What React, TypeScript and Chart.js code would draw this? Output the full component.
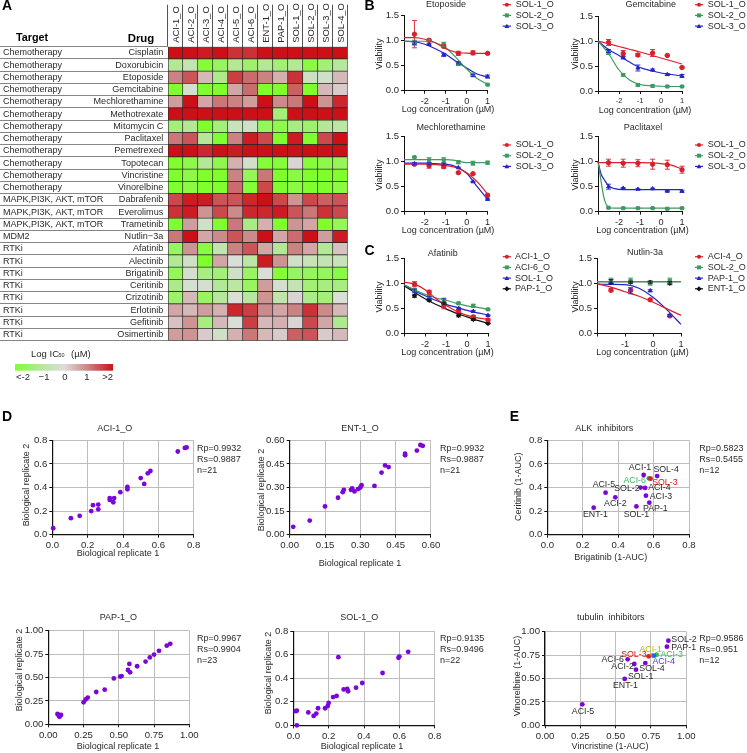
import React, { useEffect, useRef } from 'react';
import { Chart, registerables } from 'chart.js';

Chart.register(...registerables);

const W = 747;
const H = 753;
const FONT = '"Liberation Sans", Arial, sans-serif';
const INK = '#2a2a2a';
const RED = '#d8202c';
const GREEN = '#3f9a62';
const BLUE = '#2424c8';
const BLACK = '#111111';
const PURPLE = '#7a06d8';

/* ---------- A: heat map ---------- */
const cellLines = ['ACI-1_O', 'ACI-2_O', 'ACI-3_O', 'ACI-4_O', 'ACI-5_O', 'ACI-6_O', 'ENT-1_O', 'PAP-1_O', 'SOL-1_O', 'SOL-2_O', 'SOL-3_O', 'SOL-4_O'];
const drugs = ['Cisplatin', 'Doxorubicin', 'Etoposide', 'Gemcitabine', 'Mechlorethamine', 'Methotrexate', 'Mitomycin C', 'Paclitaxel', 'Pemetrexed', 'Topotecan', 'Vincristine', 'Vinorelbine', 'Dabrafenib', 'Everolimus', 'Trametinib', 'Nutlin−3a', 'Afatinib', 'Alectinib', 'Brigatinib', 'Ceritinib', 'Crizotinib', 'Erlotinib', 'Gefitinib', 'Osimertinib'];
const targets = ['Chemotherapy', 'Chemotherapy', 'Chemotherapy', 'Chemotherapy', 'Chemotherapy', 'Chemotherapy', 'Chemotherapy', 'Chemotherapy', 'Chemotherapy', 'Chemotherapy', 'Chemotherapy', 'Chemotherapy', 'MAPK,PI3K, AKT, mTOR', 'MAPK,PI3K, AKT, mTOR', 'MAPK,PI3K, AKT, mTOR', 'MDM2', 'RTKi', 'RTKi', 'RTKi', 'RTKi', 'RTKi', 'RTKi', 'RTKi', 'RTKi'];
const logIC50 = [
  [2, 2, 1.9, 2, 1.7, 1.7, 2, 2, 2, 2, 2, 2],
  [-1, -0.6, -1.9, -1.5, -1, -1.4, -1, -1.3, -1, -1.8, -1.3, -0.9],
  [1, 1.4, 0.4, -1.1, 1.6, 1.2, 1, 0.5, 1.7, -0.4, -0.3, 0.4],
  [-2, -0.2, -2, -2, 0.6, 1.2, -2, -2, 1.3, -2, 0.4, 0.2],
  [0.7, 2, 0.6, 1.1, 1, 0.7, 2, 0.9, 1.1, 2, 0.8, 1.8],
  [2, 2, 2, 2, 2, 2, 2, -1.3, 2, 2, 2, 2],
  [-1.3, -1, -2, -1.3, -0.5, -0.3, -1.6, -1.7, -1.2, -1.4, -1, -0.8],
  [1.1, 1.4, -1, -2, 1, 1.9, 1.5, -2, 1.9, -2, 1.5, 2],
  [2, 2, 1.8, 2, 1.9, 2, 2, 2, 2, 2, 2, 2],
  [-2, -1.7, -1, -1.7, 0.5, -0.3, -1.9, -1.9, 0.1, -1.9, -1.7, -1.6],
  [-2, -1.7, -2, -2, 1, -1.6, 1.1, -2, -1.8, -2, -2, -2],
  [-2, -1.8, -2, -2, 1.2, -1.9, 1.5, -2, -1.8, -2, -2, -1.8],
  [1.5, 1.9, 1.9, 1.4, 1.4, 1.8, 2, 1.5, 0.8, 1.5, 1.3, 1.4],
  [1.7, 1.9, 0.8, 1.5, 0.9, 1.8, 1.8, 1.9, 1.4, 1.1, 1.7, 1.5],
  [-2, 0.7, -0.3, -2, 1.1, -1.2, 0.5, -2, 0.8, 0.6, -2, -1.6],
  [1.1, 2, 0.6, 0.9, 1.4, 0.9, 2, 0.6, 1.2, 2, 0.7, 1.9],
  [-1.5, 0.8, -1.8, -0.6, 1, 1.4, 0.6, -1, 1, 0.6, -1, 0.3],
  [-1, -0.3, -2, 0.6, -0.1, -0.8, 1.9, 0.8, -0.3, -0.5, -0.6, -0.5],
  [-1.6, -0.2, -1.2, -1.3, -0.3, -1.5, -0.1, -1.9, -1.5, -1.6, -1.6, -1.8],
  [-1.1, -0.2, -0.2, -1, -0.8, -1.5, 0.7, -0.2, -0.6, -1.3, -1.2, -1.2],
  [-1.4, 0.4, -1.5, -0.9, -0.1, -0.9, 0.8, -0.7, 0.1, -1.1, -1.3, -0.1],
  [0.6, 0.4, 0.7, 0.5, 1.8, 1.6, 0.9, 0.6, 1, 1.7, 0.9, 0.4],
  [0.3, 0.8, -1.2, 0.4, -0.1, 1.6, 0.4, 0.5, 0.1, 1.5, 0.6, -1.1],
  [0.7, 0.8, 0.2, -0.3, 0.5, 1.1, 0.4, 0.2, 1.3, 1.4, 0.2, 0.4],
];
const scaleStops = [[128, 255, 46], [178, 232, 150], [221, 221, 221], [202, 130, 130], [204, 16, 24]];

/* ---------- B, C: dose-response ---------- */
const doseX = [-2.5, -1.8, -1.1, -0.4, 0.3, 1.0];
const nutlinX = [-1.5, -0.8, -0.1, 0.6];
const fitX = [-3, -2.5, -2, -1.5, -1, -0.5, 0, 0.5, 1];
const steepX = [-3, -2.85, -2.7, -2.5, -2.2, -1.8, -1, 0, 1];
const nutlinFitX = [-2, -1.5, -1, -0.5, 0, 0.5, 1];

const etoS1 = [1.12, 1.0, 0.88, 0.74, 0.75, 0.74];
const etoS1Err = [0.27, 0.02, 0.03, 0.04, 0.04, 0.01];
const etoS2 = [0.95, 1.0, 0.92, 0.53, 0.32, 0.12];
const etoS2Err = [0.05, 0.02, 0.04, 0.03, 0.02, 0.01];
const etoS3 = [0.95, 0.92, 0.71, 0.55, 0.3, 0.28];
const etoS3Err = [0.03, 0.02, 0.03, 0.02, 0.02, 0.03];
const etoS1Fit = [1.05, 1.05, 1.02, 0.95, 0.83, 0.76, 0.745, 0.74, 0.74];
const etoS2Fit = [0.98, 0.98, 0.98, 0.95, 0.85, 0.65, 0.43, 0.24, 0.13];
const etoS3Fit = [0.98, 0.97, 0.92, 0.83, 0.72, 0.58, 0.45, 0.33, 0.27];

const gemS1 = [0.97, 0.75, 0.72, 0.76, 0.71, 0.47];
const gemS1Err = [0.06, 0.06, 0.03, 0.07, 0.01, 0.01];
const gemS2 = [0.76, 0.32, 0.12, 0.1, 0.09, 0.09];
const gemS2Err = [0.03, 0.02, 0.02, 0.02, 0.01, 0.01];
const gemS3 = [0.8, 0.67, 0.46, 0.42, 0.33, 0.3];
const gemS3Err = [0.03, 0.03, 0.06, 0.02, 0.02, 0.03];
const gemS1Fit = [1, 0.945, 0.89, 0.835, 0.78, 0.72, 0.66, 0.6, 0.54];
const gemS2Fit = [1, 0.75, 0.42, 0.22, 0.13, 0.105, 0.095, 0.09, 0.09];
const gemS3Fit = [1, 0.83, 0.71, 0.58, 0.47, 0.41, 0.36, 0.33, 0.3];

const mecS1 = [0.95, 0.92, 0.9, 0.78, 0.76, 0.33];
const mecS1Err = [0.02, 0.05, 0.03, 0.01, 0.01, 0.02];
const mecS2 = [1.09, 1.03, 1.03, 0.99, 0.97, 0.98];
const mecS2Err = [0.01, 0.05, 0.05, 0.03, 0.04, 0.03];
const mecS3 = [0.96, 0.96, 0.95, 0.88, 0.6, 0.25];
const mecS3Err = [0.02, 0.02, 0.02, 0.01, 0.01, 0.02];
const mecS1Fit = [0.95, 0.95, 0.95, 0.94, 0.92, 0.88, 0.78, 0.6, 0.35];
const mecS2Fit = [1.04, 1.04, 1.04, 1.04, 1.04, 1.02, 0.98, 0.98, 0.98];
const mecS3Fit = [0.97, 0.97, 0.97, 0.96, 0.95, 0.9, 0.77, 0.5, 0.25];

const pacS1 = [0.98, 0.97, 0.97, 0.95, 0.94, 0.84];
const pacS1Err = [0.07, 0.08, 0.07, 0.1, 0.09, 0.07];
const pacS2 = [0.08, 0.07, 0.07, 0.07, 0.06, 0.07];
const pacS2Err = [0.01, 0.01, 0.01, 0.01, 0.01, 0.01];
const pacS3 = [0.5, 0.47, 0.45, 0.46, 0.41, 0.41];
const pacS3Err = [0.05, 0.01, 0.01, 0.01, 0.01, 0.02];
const pacS1Fit = [0.98, 0.98, 0.98, 0.98, 0.98, 0.975, 0.96, 0.93, 0.85];
const pacS2Fit = [1, 0.6, 0.25, 0.09, 0.07, 0.07, 0.07, 0.07, 0.07];
const pacS3Fit = [1, 0.75, 0.64, 0.52, 0.46, 0.44, 0.44, 0.44, 0.44];

const afaA1 = [0.98, 0.82, 0.55, 0.43, 0.33, 0.27];
const afaA1Err = [0.05, 0.04, 0.06, 0.03, 0.03, 0.02];
const afaA6 = [0.87, 0.72, 0.65, 0.6, 0.55, 0.48];
const afaA6Err = [0.02, 0.02, 0.03, 0.02, 0.03, 0.01];
const afaS1 = [0.85, 0.72, 0.65, 0.5, 0.44, 0.36];
const afaS1Err = [0.03, 0.02, 0.05, 0.02, 0.02, 0.01];
const afaP1 = [0.75, 0.66, 0.6, 0.36, 0.28, 0.2];
const afaP1Err = [0.03, 0.02, 0.02, 0.03, 0.02, 0.01];
const afaA1Fit = [1.02, 0.98, 0.87, 0.7, 0.56, 0.44, 0.36, 0.31, 0.28];
const afaA6Fit = [0.97, 0.87, 0.78, 0.71, 0.66, 0.6, 0.55, 0.52, 0.48];
const afaS1Fit = [0.97, 0.85, 0.75, 0.66, 0.58, 0.52, 0.46, 0.41, 0.37];
const afaP1Fit = [0.95, 0.82, 0.69, 0.58, 0.49, 0.4, 0.33, 0.26, 0.2];

const nutA4 = [0.86, 0.86, 0.67, 0.35];
const nutA4Err = [0.03, 0.02, 0.02, 0.02];
const nutS2 = [1.05, 1.05, 1.0, 1.05];
const nutS2Err = [0.05, 0.05, 0.04, 0.05];
const nutP1 = [1.0, 0.85, 0.85, 0.36];
const nutP1Err = [0.02, 0.06, 0.02, 0.02];
const nutE1 = [1.03, 1.02, 1.02, 1.0];
const nutE1Err = [0.04, 0.02, 0.02, 0.03];
const nutA4Fit = [0.99, 0.92, 0.83, 0.74, 0.62, 0.49, 0.36];
const nutS2Fit = [1.03, 1.03, 1.03, 1.03, 1.03, 1.03, 1.03];
const nutP1Fit = [0.98, 0.975, 0.97, 0.9, 0.72, 0.47, 0.18];
const nutE1Fit = [1.03, 1.03, 1.03, 1.03, 1.03, 1.03, 1.03];

/* ---------- D: replicate scatter ---------- */
const aci1Rep1 = [0.005, 0.105, 0.155, 0.22, 0.23, 0.26, 0.26, 0.325, 0.325, 0.345, 0.35, 0.385, 0.425, 0.425, 0.5, 0.52, 0.54, 0.555, 0.71, 0.75, 0.76];
const aci1Rep2 = [0.055, 0.14, 0.16, 0.2, 0.25, 0.255, 0.215, 0.31, 0.295, 0.275, 0.31, 0.36, 0.405, 0.385, 0.48, 0.43, 0.52, 0.54, 0.705, 0.735, 0.74];
const ent1Rep1 = [0.015, 0.085, 0.15, 0.205, 0.225, 0.23, 0.26, 0.265, 0.275, 0.29, 0.3, 0.305, 0.36, 0.39, 0.405, 0.42, 0.49, 0.49, 0.54, 0.555, 0.565];
const ent1Rep2 = [0.05, 0.09, 0.18, 0.235, 0.27, 0.285, 0.285, 0.295, 0.275, 0.29, 0.3, 0.315, 0.31, 0.395, 0.44, 0.43, 0.505, 0.515, 0.535, 0.57, 0.565];
const pap1Rep1 = [0.065, 0.075, 0.08, 0.09, 0.075, 0.25, 0.265, 0.28, 0.34, 0.4, 0.465, 0.51, 0.52, 0.565, 0.575, 0.58, 0.63, 0.69, 0.72, 0.75, 0.785, 0.84, 0.865];
const pap1Rep2 = [0.11, 0.1, 0.08, 0.1, 0.09, 0.235, 0.265, 0.285, 0.345, 0.37, 0.49, 0.51, 0.515, 0.58, 0.645, 0.555, 0.62, 0.67, 0.715, 0.745, 0.785, 0.84, 0.86];
const sol1Rep1 = [0.015, 0.02, 0.02, 0.085, 0.115, 0.13, 0.14, 0.18, 0.195, 0.2, 0.225, 0.245, 0.255, 0.285, 0.305, 0.31, 0.355, 0.39, 0.505, 0.595, 0.6, 0.65];
const sol1Rep2 = [0.12, 0.125, 0, 0.11, 0.08, 0.1, 0.145, 0.145, 0.165, 0.19, 0.24, 0.25, 0.58, 0.305, 0.31, 0.29, 0.32, 0.36, 0.445, 0.575, 0.585, 0.625];

/* ---------- E: inhibitor scatter ---------- */
const alkNames = ['ACI-1', 'SOL-4', 'ACI-6', 'SOL-3', 'SOL-2', 'ACI-4', 'ACI-5', 'ACI-3', 'ACI-2', 'PAP-1', 'SOL-1', 'ENT-1'];
const alkBrigatinib = [0.544, 0.62, 0.574, 0.583, 0.527, 0.552, 0.329, 0.557, 0.384, 0.576, 0.503, 0.262];
const alkCeritinib = [0.506, 0.497, 0.478, 0.475, 0.399, 0.396, 0.356, 0.331, 0.317, 0.271, 0.24, 0.229];
const alkLabelDx = [-3.7, 9, -14.3, 14.3, -13.7, 14.3, -1.7, 15, 0, 6, 0, 1.7];
const alkLabelDy = [-7, -6.7, 2.3, 3.7, 1.3, 0, -7.7, 1.3, 6, 5.7, 8.3, 7];
const alkPointColors = [PURPLE, PURPLE, '#2f9a55', '#d8202c', PURPLE, PURPLE, PURPLE, PURPLE, PURPLE, PURPLE, PURPLE, PURPLE];
const alkLabelColors = [INK, INK, '#3cb85a', '#e0141c', INK, INK, INK, INK, INK, INK, INK, INK];

const tubNames = ['SOL-2', 'PAP-1', 'ACI-1', 'ACI-3', 'ACI-4', 'SOL-3', 'ACI-6', 'ACI-2', 'SOL-4', 'SOL-1', 'ENT-1', 'ACI-5'];
const tubVincristine = [0.873, 0.863, 0.755, 0.79, 0.771, 0.733, 0.585, 0.632, 0.71, 0.644, 0.564, 0.264];
const tubVinorelbine = [0.904, 0.84, 0.747, 0.754, 0.744, 0.737, 0.705, 0.655, 0.665, 0.594, 0.495, 0.224];
const tubLabelDx = [15.7, 16.7, -1, 15, 9.7, -14.7, -15, -11.7, 6.7, 4.7, 0.7, 0.7];
const tubLabelDy = [-1, 1.3, -5.7, 0.3, 6, -1.3, 0, 2.3, 6, 6.7, 6.7, 7.7];
const tubPointColors = [PURPLE, PURPLE, '#c8b400', '#3cb85a', '#2a62e0', '#d8202c', PURPLE, PURPLE, PURPLE, PURPLE, PURPLE, PURPLE];
const tubLabelColors = [INK, INK, '#c4b000', '#3cb85a', '#3a3ae8', '#e0141c', INK, INK, INK, INK, INK, INK];

/* ---------- drawing helpers ---------- */
type Txt = { t: string; x: number; y: number; size?: number; bold?: boolean; color?: string; rot?: boolean; align?: CanvasTextAlign };
type Rect = { l: number; t: number; r: number; b: number };

function putText(ctx: CanvasRenderingContext2D, a: Txt) {
  ctx.save();
  ctx.font = `${a.bold ? 'bold ' : ''}${a.size ?? 9}px ${FONT}`;
  ctx.fillStyle = a.color ?? INK;
  ctx.textAlign = a.align ?? 'center';
  ctx.textBaseline = 'middle';
  ctx.translate(a.x, a.y);
  if (a.rot) ctx.rotate(-Math.PI / 2);
  ctx.fillText(a.t, 0, 0);
  ctx.restore();
}

const textPlugin = (items: Txt[]) => ({
  id: 'pageText',
  afterDraw(chart: any) {
    items.forEach((a) => putText(chart.ctx, a));
  },
});

const errorPlugin = {
  id: 'errorBars',
  afterDatasetsDraw(chart: any) {
    const ctx = chart.ctx;
    const y = chart.scales.y;
    chart.data.datasets.forEach((ds: any, i: number) => {
      if (!ds.errors) return;
      const meta = chart.getDatasetMeta(i);
      ctx.save();
      ctx.strokeStyle = ds.borderColor;
      ctx.lineWidth = 0.9;
      ds.errors.forEach((e: number, j: number) => {
        const v = ds.data[j].y;
        const px = meta.data[j].x;
        const a = y.getPixelForValue(v + e);
        const b = y.getPixelForValue(v - e);
        ctx.beginPath();
        ctx.moveTo(px, a);
        ctx.lineTo(px, b);
        ctx.moveTo(px - 2.5, a);
        ctx.lineTo(px + 2.5, a);
        ctx.moveTo(px - 2.5, b);
        ctx.lineTo(px + 2.5, b);
        ctx.stroke();
      });
      ctx.restore();
    });
  },
};

const legendPlugin = (entries: { name: string; color: string; marker: string }[], x0: number, x1: number, tx: number, y0: number, dy: number) => ({
  id: 'seriesKey',
  afterDraw(chart: any) {
    const ctx = chart.ctx;
    entries.forEach((e, i) => {
      const y = y0 + i * dy;
      ctx.save();
      ctx.strokeStyle = e.color;
      ctx.fillStyle = e.color;
      ctx.lineWidth = 1.2;
      ctx.beginPath();
      ctx.moveTo(x0, y);
      ctx.lineTo(x1, y);
      ctx.stroke();
      const cx = (x0 + x1) / 2;
      ctx.beginPath();
      if (e.marker === 'rect') ctx.rect(cx - 2, y - 2, 4, 4);
      else if (e.marker === 'triangle') {
        ctx.moveTo(cx, y - 2.4);
        ctx.lineTo(cx + 2.4, y + 1.8);
        ctx.lineTo(cx - 2.4, y + 1.8);
        ctx.closePath();
      } else if (e.marker === 'rectRot') {
        ctx.moveTo(cx, y - 2.6);
        ctx.lineTo(cx + 2.6, y);
        ctx.lineTo(cx, y + 2.6);
        ctx.lineTo(cx - 2.6, y);
        ctx.closePath();
      } else ctx.arc(cx, y, 2, 0, Math.PI * 2);
      ctx.fill();
      ctx.restore();
      putText(ctx, { t: e.name, x: tx, y, size: 9, align: 'left' });
    });
  },
});

/* Each canvas spans the page: the axis boxes fill the margins so that the
   plot area lands on rect and the tick labels are not clipped. */
const frame = (r: Rect, topAxis = false) => ({
  responsive: false,
  maintainAspectRatio: false,
  animation: false as const,
  devicePixelRatio: 1,
  events: [] as any[],
  layout: { padding: { left: 0, top: topAxis ? 0 : r.t, right: W - r.r, bottom: topAxis ? H - r.b : 0 } },
  plugins: { legend: { display: false }, tooltip: { enabled: false }, title: { display: false } },
});

const boxX = (size: number) => (s: any) => { s.height = size; };
const boxY = (size: number) => (s: any) => { s.width = size; };
const tickFont = (size = 9.2) => ({ family: FONT, size });

/* ---------- panel configs ---------- */
type Series = { name: string; color: string; marker: string; xs: number[]; ys: number[]; errs: number[]; fitXs: number[]; fit: number[] };

function dosePanel(o: {
  rect: Rect; min: number; series: Series[]; title: Txt; xTitle: Txt; yTitle: Txt; key: [number, number, number, number, number]; xTickSize?: number;
}) {
  const datasets: any[] = [];
  o.series.forEach((s) => {
    datasets.push({
      data: s.xs.map((x, i) => ({ x, y: s.ys[i] })),
      errors: s.errs,
      borderColor: s.color,
      backgroundColor: s.color,
      pointStyle: s.marker,
      pointRadius: 2.2,
      showLine: false,
      clip: false,
    });
    datasets.push({
      data: s.fitXs.map((x, i) => ({ x, y: s.fit[i] })),
      borderColor: s.color,
      backgroundColor: s.color,
      borderWidth: 1.2,
      pointRadius: 0,
      showLine: true,
      cubicInterpolationMode: 'monotone',
      clip: false,
    });
  });
  const axis = { drawOnChartArea: false, tickLength: 3, tickColor: BLACK, tickWidth: 1 };
  return {
    type: 'scatter',
    data: { datasets },
    options: {
      ...frame(o.rect),
      scales: {
        x: {
          type: 'linear', min: o.min, max: 1, afterFit: boxX(H - o.rect.b), grid: axis,
          border: { color: BLACK, width: 1 },
          ticks: { stepSize: 1, autoSkip: false, maxRotation: 0, padding: 2, color: INK, font: tickFont(o.xTickSize ?? 9.2), callback: (v: number) => (v === o.min ? '' : String(v)) },
        },
        y: {
          type: 'linear', min: 0, max: 1.5, afterFit: boxY(o.rect.l), grid: axis,
          border: { color: BLACK, width: 1 },
          ticks: { stepSize: 0.5, padding: 2, color: INK, font: tickFont(9.5), callback: (v: number) => Number(v).toFixed(1) },
        },
      },
    },
    plugins: [errorPlugin, textPlugin([o.title, o.xTitle, o.yTitle]), legendPlugin(o.series, o.key[0], o.key[1], o.key[2], o.key[3], o.key[4])],
  };
}

const pointLabelPlugin = (names: string[], xs: number[], ys: number[], dx: number[], dy: number[], colors: string[]) => ({
  id: 'pointLabels',
  afterDraw(chart: any) {
    names.forEach((t, i) => {
      putText(chart.ctx, {
        t, size: 8.8, color: colors[i],
        x: chart.scales.x.getPixelForValue(xs[i]) + dx[i],
        y: chart.scales.y.getPixelForValue(ys[i]) + dy[i],
      });
    });
  },
});

function scatterPanel(o: {
  rect: Rect; max: number; step: number; digits: number; xs: number[]; ys: number[]; colors?: string[];
  texts: Txt[]; extra?: any[];
}) {
  const grid = { color: '#bdbdbd', lineWidth: 1, tickLength: 3, tickColor: BLACK };
  const tick = (v: number) => Number(v).toFixed(o.digits);
  return {
    type: 'scatter',
    data: {
      datasets: [{
        data: o.xs.map((x, i) => ({ x, y: o.ys[i] })),
        pointBackgroundColor: o.colors ?? PURPLE,
        pointBorderWidth: 0,
        pointRadius: 2.4,
        clip: false,
      }],
    },
    options: {
      ...frame(o.rect),
      scales: {
        x: {
          type: 'linear', min: 0, max: o.max, afterFit: boxX(H - o.rect.b), grid,
          border: { color: BLACK, width: 1.2 },
          ticks: { stepSize: o.step, autoSkip: false, maxRotation: 0, padding: 2, color: INK, font: tickFont(9.6), callback: tick },
        },
        y: {
          type: 'linear', min: 0, max: o.max, afterFit: boxY(o.rect.l), grid,
          border: { color: BLACK, width: 1.2 },
          ticks: { stepSize: o.step, padding: 2, color: INK, font: tickFont(9.6), callback: tick },
        },
      },
    },
    plugins: [textPlugin(o.texts), ...(o.extra ?? [])],
  };
}

const stats = (x: number, y0: number, rp: string, rs: string, n: string): Txt[] => [
  { t: `Rp=${rp}`, x, y: y0, align: 'left', size: 9 },
  { t: `Rs=${rs}`, x, y: y0 + 10.6, align: 'left', size: 9 },
  { t: `n=${n}`, x, y: y0 + 22, align: 'left', size: 9 },
];

function cellColor(v: number) {
  const p = Math.max(0, Math.min(3.999, v + 2));
  const i = Math.floor(p);
  const f = p - i;
  const c = scaleStops[i].map((a, k) => Math.round(a + (scaleStops[i + 1][k] - a) * f));
  return `rgb(${c[0]},${c[1]},${c[2]})`;
}

function heatPanel() {
  const rect = { l: 167.7, t: 46.7, r: 347.7, b: 340.7 };
  const headerTicks = Array.from({ length: 25 }, (_, i) => ({ value: i / 2 }));
  const notes: Txt[] = [
    { t: 'A', x: 7, y: 6.5, size: 14, bold: true, color: '#000' },
    { t: 'B', x: 369.5, y: 6, size: 14, bold: true, color: '#000' },
    { t: 'C', x: 369.5, y: 251, size: 14, bold: true, color: '#000' },
    { t: 'D', x: 7, y: 416.7, size: 14, bold: true, color: '#000' },
    { t: 'E', x: 514.5, y: 416.7, size: 14, bold: true, color: '#000' },
    { t: 'Target', x: 32, y: 38, size: 10.8, bold: true, color: '#000' },
    { t: 'Drug', x: 141, y: 38.5, size: 11.4, bold: true, color: '#000' },
    { t: 'Log IC', x: 31, y: 354, size: 9.5, align: 'left' },
    { t: '50', x: 58.5, y: 355.5, size: 5.5, align: 'left' },
    { t: '(µM)', x: 71, y: 354, size: 9.5, align: 'left' },
    { t: '<-2', x: 23, y: 377, size: 9.5 },
    { t: '−1', x: 44, y: 377, size: 9.5 },
    { t: '0', x: 65, y: 377, size: 9.5 },
    { t: '1', x: 87, y: 377, size: 9.5 },
    { t: '>2', x: 107.7, y: 377, size: 9.5 },
  ];
  const extras = {
    id: 'heatExtras',
    afterDraw(chart: any) {
      const ctx = chart.ctx;
      const y = chart.scales.y;
      targets.forEach((t, i) => putText(ctx, { t, x: 3, y: y.getPixelForValue(i), size: 9, align: 'left' }));
      const g = ctx.createLinearGradient(15, 0, 113, 0);
      scaleStops.forEach((s, i) => g.addColorStop(i / 4, `rgb(${s[0]},${s[1]},${s[2]})`));
      ctx.fillStyle = g;
      ctx.fillRect(15, 364, 98, 6.7);
    },
  };
  return {
    type: 'bar',
    data: {
      labels: drugs,
      datasets: cellLines.map((name, c) => ({
        label: name,
        data: drugs.map(() => 1),
        backgroundColor: logIC50.map((row) => cellColor(row[c])),
        borderColor: '#262626',
        borderWidth: 0.7,
        borderSkipped: false,
        barPercentage: 1,
        categoryPercentage: 1,
      })),
    },
    options: {
      ...frame(rect, true),
      indexAxis: 'y',
      scales: {
        x: {
          type: 'linear', position: 'top', stacked: true, min: 0, max: 12, afterFit: boxX(rect.t),
          afterBuildTicks: (s: any) => { s.ticks = headerTicks; },
          border: { display: false },
          grid: {
            drawOnChartArea: false, tickLength: 42,
            tickColor: (c: any) => (Number.isInteger(c.tick?.value) ? '#555' : 'rgba(0,0,0,0)'),
            color: 'rgba(0,0,0,0)',
          },
          ticks: {
            autoSkip: false, minRotation: 90, maxRotation: 90, padding: -38, labelOffset: 12, color: INK, font: tickFont(9.4),
            callback: (v: number) => (Number.isInteger(v) ? '' : cellLines[v - 0.5]),
          },
        },
        y: {
          type: 'category', stacked: true, afterFit: boxY(rect.l),
          border: { display: false },
          grid: { drawOnChartArea: false, offset: true, tickLength: 167.7, tickColor: '#858585', tickWidth: 1, color: 'rgba(0,0,0,0)' },
          ticks: { autoSkip: false, padding: -163.3, color: INK, font: tickFont(9.1) },
        },
      },
    },
    plugins: [textPlugin(notes), extras],
  };
}

const axisText = (t: string, x: number, y: number, rot = false): Txt => ({ t, x, y, rot, size: 9 });

function buildPanels() {
  const s1 = { name: 'SOL-1_O', color: RED, marker: 'circle' };
  const s2 = { name: 'SOL-2_O', color: GREEN, marker: 'rect' };
  const s3 = { name: 'SOL-3_O', color: BLUE, marker: 'triangle' };
  const logC = 'Log concentration (µM)';
  return [
    heatPanel(),
    dosePanel({
      rect: { l: 404, t: 15, r: 487.6, b: 90.7 }, min: -3,
      series: [
        { ...s1, xs: doseX, ys: etoS1, errs: etoS1Err, fitXs: fitX, fit: etoS1Fit },
        { ...s2, xs: doseX, ys: etoS2, errs: etoS2Err, fitXs: fitX, fit: etoS2Fit },
        { ...s3, xs: doseX, ys: etoS3, errs: etoS3Err, fitXs: fitX, fit: etoS3Fit },
      ],
      title: axisText('Etoposide', 446, 4.7), xTitle: axisText(logC, 448, 110), yTitle: axisText('Viability', 379.3, 54, true),
      key: [502.7, 511, 515.7, 4.7, 10.7],
    }),
    dosePanel({
      rect: { l: 598, t: 16, r: 682, b: 91 }, min: -3, xTickSize: 7.5,
      series: [
        { ...s1, xs: doseX, ys: gemS1, errs: gemS1Err, fitXs: fitX, fit: gemS1Fit },
        { ...s2, xs: doseX, ys: gemS2, errs: gemS2Err, fitXs: fitX, fit: gemS2Fit },
        { ...s3, xs: doseX, ys: gemS3, errs: gemS3Err, fitXs: fitX, fit: gemS3Fit },
      ],
      title: axisText('Gemcitabine', 650.7, 4.7), xTitle: axisText(logC, 645, 110.5), yTitle: axisText('Viability', 575.5, 54, true),
      key: [695, 703, 707.7, 4.7, 10.7],
    }),
    dosePanel({
      rect: { l: 404, t: 136.7, r: 487.6, b: 211.7 }, min: -3,
      series: [
        { ...s1, xs: doseX, ys: mecS1, errs: mecS1Err, fitXs: fitX, fit: mecS1Fit },
        { ...s2, xs: doseX, ys: mecS2, errs: mecS2Err, fitXs: fitX, fit: mecS2Fit },
        { ...s3, xs: doseX, ys: mecS3, errs: mecS3Err, fitXs: fitX, fit: mecS3Fit },
      ],
      title: axisText('Mechlorethamine', 451, 127.7), xTitle: axisText(logC, 448, 231), yTitle: axisText('Viability', 379.3, 175, true),
      key: [502.7, 511, 515.7, 145, 10.7],
    }),
    dosePanel({
      rect: { l: 598, t: 136.7, r: 682, b: 211.7 }, min: -3,
      series: [
        { ...s1, xs: doseX, ys: pacS1, errs: pacS1Err, fitXs: fitX, fit: pacS1Fit },
        { ...s2, xs: doseX, ys: pacS2, errs: pacS2Err, fitXs: steepX, fit: pacS2Fit },
        { ...s3, xs: doseX, ys: pacS3, errs: pacS3Err, fitXs: steepX, fit: pacS3Fit },
      ],
      title: axisText('Paclitaxel', 643, 127.7), xTitle: axisText(logC, 642.5, 231), yTitle: axisText('Viability', 575.5, 175, true),
      key: [695, 703, 707.7, 145, 10.7],
    }),
    dosePanel({
      rect: { l: 404, t: 258, r: 488, b: 333.5 }, min: -3,
      series: [
        { name: 'ACI-1_O', color: RED, marker: 'circle', xs: doseX, ys: afaA1, errs: afaA1Err, fitXs: fitX, fit: afaA1Fit },
        { name: 'ACI-6_O', color: GREEN, marker: 'rect', xs: doseX, ys: afaA6, errs: afaA6Err, fitXs: fitX, fit: afaA6Fit },
        { name: 'SOL-1_O', color: BLUE, marker: 'triangle', xs: doseX, ys: afaS1, errs: afaS1Err, fitXs: fitX, fit: afaS1Fit },
        { name: 'PAP-1_O', color: BLACK, marker: 'rectRot', xs: doseX, ys: afaP1, errs: afaP1Err, fitXs: fitX, fit: afaP1Fit },
      ],
      title: axisText('Afatinib', 442.7, 253.7), xTitle: axisText(logC, 447.5, 352.5), yTitle: axisText('Viability', 379.3, 297, true),
      key: [502.7, 511, 515, 256.7, 10.7],
    }),
    dosePanel({
      rect: { l: 597, t: 258, r: 681, b: 333.5 }, min: -2,
      series: [
        { name: 'ACI-4_O', color: RED, marker: 'circle', xs: nutlinX, ys: nutA4, errs: nutA4Err, fitXs: nutlinFitX, fit: nutA4Fit },
        { name: 'SOL-2_O', color: GREEN, marker: 'rect', xs: nutlinX, ys: nutS2, errs: nutS2Err, fitXs: nutlinFitX, fit: nutS2Fit },
        { name: 'PAP-1_O', color: BLUE, marker: 'triangle', xs: nutlinX, ys: nutP1, errs: nutP1Err, fitXs: nutlinFitX, fit: nutP1Fit },
        { name: 'ENT-1_O', color: BLACK, marker: 'rectRot', xs: nutlinX, ys: nutE1, errs: nutE1Err, fitXs: nutlinFitX, fit: nutE1Fit },
      ],
      title: axisText('Nutlin-3a', 645, 253), xTitle: axisText(logC, 642.5, 352.5), yTitle: axisText('Viability', 575.5, 297, true),
      key: [695, 703, 707.7, 256.7, 10.7],
    }),
    scatterPanel({
      rect: { l: 52.3, t: 440.3, r: 193.7, b: 534.7 }, max: 0.8, step: 0.2, digits: 1, xs: aci1Rep1, ys: aci1Rep2,
      texts: [axisText('ACI-1_O', 114.7, 429), axisText('Biological replicate 1', 118, 553.7), axisText('Biological replicate 2', 26.7, 485, true), ...stats(197, 448.7, '0.9932', '0.9887', '21')],
    }),
    scatterPanel({
      rect: { l: 289.7, t: 440.3, r: 431, b: 534.7 }, max: 0.6, step: 0.15, digits: 2, xs: ent1Rep1, ys: ent1Rep2,
      texts: [axisText('ENT-1_O', 360, 429), axisText('Biological replicate 1', 360, 563.7), axisText('Biological replicate 2', 261.7, 490, true), ...stats(440, 448.7, '0.9932', '0.9887', '21')],
    }),
    scatterPanel({
      rect: { l: 547.3, t: 440.3, r: 689, b: 534.7 }, max: 0.8, step: 0.2, digits: 1, xs: alkBrigatinib, ys: alkCeritinib, colors: alkPointColors,
      texts: [axisText('ALK  inhibitors', 604.3, 429), axisText('Brigatinib (1-AUC)', 610.7, 557.3), axisText('Ceritinib (1-AUC)', 518.3, 486.7, true), ...stats(699.3, 448.7, '0.5823', '0.5455', '12')],
      extra: [pointLabelPlugin(alkNames, alkBrigatinib, alkCeritinib, alkLabelDx, alkLabelDy, alkLabelColors)],
    }),
    scatterPanel({
      rect: { l: 48.3, t: 630.7, r: 189.3, b: 724.3 }, max: 1, step: 0.25, digits: 2, xs: pap1Rep1, ys: pap1Rep2,
      texts: [axisText('PAP-1_O', 118.3, 617.3), axisText('Biological replicate 1', 118, 747), axisText('Biological replicate 2', 20, 670, true), ...stats(197, 638.7, '0.9967', '0.9904', '23')],
    }),
    scatterPanel({
      rect: { l: 293.3, t: 631.3, r: 434.7, b: 725.3 }, max: 0.8, step: 0.2, digits: 1, xs: sol1Rep1, ys: sol1Rep2,
      texts: [axisText('SOL-1_O', 359.3, 617.3), axisText('Biological replicate 1', 362, 747), axisText('Biological replicate 2', 269, 673, true), ...stats(440, 638.7, '0.9135', '0.9496', '22')],
    }),
    scatterPanel({
      rect: { l: 545, t: 631.7, r: 686.3, b: 725.3 }, max: 1, step: 0.25, digits: 2, xs: tubVincristine, ys: tubVinorelbine, colors: tubPointColors,
      texts: [axisText('tubulin  inhibitors', 610.7, 617.3), axisText('Vincristine (1-AUC)', 610, 747), axisText('Vinorelbine (1-AUC)', 517.7, 676, true), ...stats(699.3, 638.7, '0.9586', '0.951', '12')],
      extra: [pointLabelPlugin(tubNames, tubVincristine, tubVinorelbine, tubLabelDx, tubLabelDy, tubLabelColors)],
    }),
  ];
}

function Panel({ config }: { config: any }) {
  const ref = useRef<HTMLCanvasElement>(null);
  useEffect(() => {
    const chart = new Chart(ref.current as HTMLCanvasElement, config);
    return () => chart.destroy();
  }, [config]);
  return <canvas ref={ref} width={W} height={H} style={{ position: 'absolute', left: 0, top: 0, width: W, height: H }} />;
}

const panels = buildPanels();

export default function App() {
  return (
    <div style={{ position: 'absolute', left: 0, top: 0, width: W, height: H, overflow: 'hidden', background: '#fff' }}>
      {panels.map((config, i) => <Panel key={i} config={config} />)}
    </div>
  );
}
